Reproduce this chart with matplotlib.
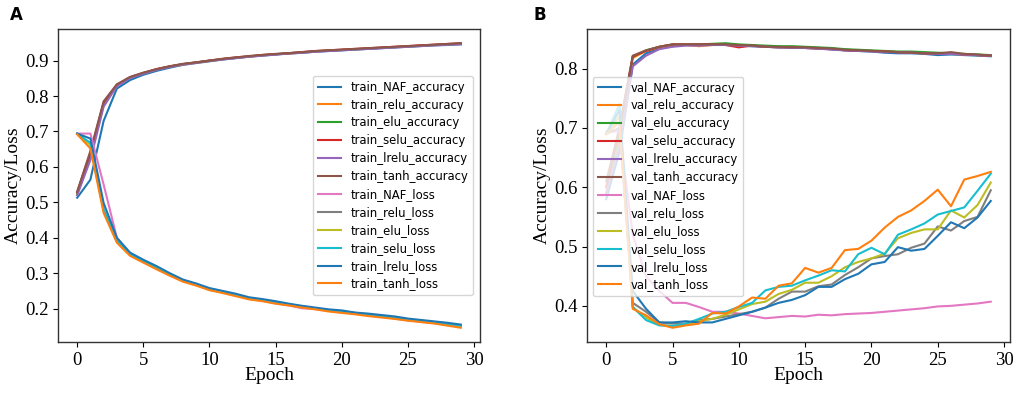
import matplotlib
matplotlib.use("Agg")
import matplotlib.pyplot as plt

epochs = list(range(30))

# ---- panel A: training curves ----
train_NAF_accuracy = [0.513, 0.564, 0.73, 0.821, 0.845, 0.860, 0.871, 0.880, 0.888, 0.893, 0.898, 0.903, 0.907, 0.911, 0.914, 0.917, 0.920, 0.922, 0.925, 0.927, 0.929, 0.931, 0.933, 0.935, 0.937, 0.939, 0.941, 0.943, 0.944, 0.946]
train_relu_accuracy = [0.522, 0.628, 0.775, 0.830, 0.852, 0.864, 0.875, 0.883, 0.889, 0.894, 0.899, 0.904, 0.908, 0.911, 0.915, 0.918, 0.920, 0.923, 0.926, 0.928, 0.930, 0.932, 0.934, 0.936, 0.938, 0.940, 0.942, 0.944, 0.946, 0.947]
train_elu_accuracy = [0.526, 0.635, 0.780, 0.831, 0.852, 0.865, 0.875, 0.883, 0.890, 0.895, 0.900, 0.904, 0.908, 0.912, 0.915, 0.918, 0.921, 0.923, 0.926, 0.928, 0.930, 0.932, 0.934, 0.936, 0.938, 0.940, 0.942, 0.944, 0.946, 0.948]
train_selu_accuracy = [0.529, 0.640, 0.782, 0.832, 0.853, 0.865, 0.876, 0.884, 0.890, 0.895, 0.900, 0.905, 0.909, 0.912, 0.916, 0.918, 0.921, 0.924, 0.927, 0.929, 0.931, 0.933, 0.935, 0.937, 0.939, 0.941, 0.943, 0.945, 0.947, 0.949]
train_lrelu_accuracy = [0.520, 0.620, 0.770, 0.828, 0.851, 0.863, 0.874, 0.882, 0.889, 0.894, 0.899, 0.903, 0.907, 0.911, 0.914, 0.917, 0.920, 0.922, 0.925, 0.927, 0.929, 0.931, 0.933, 0.935, 0.937, 0.939, 0.941, 0.943, 0.945, 0.946]
train_tanh_accuracy = [0.530, 0.645, 0.785, 0.833, 0.854, 0.866, 0.876, 0.884, 0.891, 0.895, 0.900, 0.905, 0.909, 0.913, 0.916, 0.919, 0.921, 0.924, 0.927, 0.929, 0.931, 0.933, 0.935, 0.937, 0.939, 0.941, 0.943, 0.945, 0.947, 0.949]

train_NAF_loss = [0.694, 0.694, 0.55, 0.400, 0.355, 0.334, 0.314, 0.294, 0.278, 0.267, 0.254, 0.246, 0.237, 0.228, 0.222, 0.215, 0.209, 0.201, 0.199, 0.194, 0.189, 0.186, 0.181, 0.177, 0.172, 0.167, 0.163, 0.159, 0.154, 0.149]
train_relu_loss = [0.694, 0.665, 0.478, 0.392, 0.352, 0.333, 0.315, 0.296, 0.279, 0.268, 0.255, 0.247, 0.238, 0.229, 0.224, 0.217, 0.212, 0.206, 0.201, 0.196, 0.192, 0.188, 0.183, 0.179, 0.175, 0.170, 0.166, 0.162, 0.158, 0.153]
train_elu_loss = [0.693, 0.662, 0.476, 0.390, 0.351, 0.332, 0.314, 0.295, 0.278, 0.267, 0.254, 0.246, 0.237, 0.228, 0.223, 0.216, 0.211, 0.205, 0.200, 0.194, 0.190, 0.186, 0.181, 0.177, 0.173, 0.168, 0.164, 0.160, 0.155, 0.150]
train_selu_loss = [0.693, 0.668, 0.480, 0.392, 0.353, 0.333, 0.313, 0.295, 0.279, 0.268, 0.253, 0.247, 0.238, 0.229, 0.224, 0.217, 0.212, 0.206, 0.201, 0.196, 0.191, 0.187, 0.182, 0.178, 0.174, 0.169, 0.165, 0.161, 0.157, 0.152]
train_lrelu_loss = [0.694, 0.680, 0.498, 0.400, 0.358, 0.338, 0.320, 0.300, 0.282, 0.271, 0.258, 0.250, 0.242, 0.232, 0.227, 0.221, 0.214, 0.208, 0.203, 0.198, 0.195, 0.189, 0.186, 0.182, 0.178, 0.172, 0.168, 0.164, 0.160, 0.155]
train_tanh_loss = [0.692, 0.652, 0.470, 0.386, 0.349, 0.330, 0.311, 0.293, 0.276, 0.265, 0.252, 0.244, 0.235, 0.226, 0.221, 0.214, 0.209, 0.203, 0.198, 0.192, 0.188, 0.184, 0.179, 0.175, 0.171, 0.166, 0.162, 0.158, 0.152, 0.146]

# ---- panel B: validation curves ----
val_NAF_accuracy = [0.58, 0.66, 0.807, 0.826, 0.834, 0.838, 0.840, 0.840, 0.841, 0.841, 0.839, 0.838, 0.837, 0.836, 0.836, 0.835, 0.834, 0.833, 0.831, 0.830, 0.829, 0.827, 0.826, 0.826, 0.825, 0.823, 0.824, 0.823, 0.822, 0.821]
val_relu_accuracy = [0.59, 0.68, 0.818, 0.830, 0.836, 0.839, 0.840, 0.838, 0.840, 0.841, 0.840, 0.839, 0.837, 0.837, 0.836, 0.836, 0.835, 0.834, 0.832, 0.831, 0.830, 0.829, 0.828, 0.827, 0.826, 0.826, 0.825, 0.824, 0.823, 0.822]
val_elu_accuracy = [0.60, 0.69, 0.820, 0.831, 0.837, 0.841, 0.841, 0.841, 0.842, 0.843, 0.841, 0.840, 0.839, 0.838, 0.838, 0.837, 0.836, 0.835, 0.833, 0.832, 0.831, 0.830, 0.829, 0.829, 0.828, 0.827, 0.826, 0.825, 0.824, 0.823]
val_selu_accuracy = [0.60, 0.70, 0.821, 0.830, 0.837, 0.841, 0.841, 0.841, 0.841, 0.840, 0.836, 0.839, 0.837, 0.836, 0.836, 0.835, 0.834, 0.833, 0.831, 0.830, 0.830, 0.829, 0.828, 0.827, 0.826, 0.825, 0.826, 0.824, 0.823, 0.822]
val_lrelu_accuracy = [0.59, 0.67, 0.804, 0.822, 0.833, 0.837, 0.839, 0.839, 0.840, 0.840, 0.839, 0.838, 0.837, 0.836, 0.835, 0.835, 0.834, 0.832, 0.831, 0.830, 0.829, 0.828, 0.828, 0.827, 0.826, 0.825, 0.825, 0.824, 0.823, 0.822]
val_tanh_accuracy = [0.61, 0.70, 0.822, 0.831, 0.837, 0.841, 0.841, 0.841, 0.841, 0.841, 0.840, 0.839, 0.837, 0.837, 0.836, 0.836, 0.835, 0.834, 0.832, 0.831, 0.830, 0.829, 0.828, 0.827, 0.826, 0.826, 0.828, 0.825, 0.824, 0.822]

val_NAF_loss = [0.694, 0.694, 0.52, 0.450, 0.425, 0.405, 0.405, 0.398, 0.390, 0.390, 0.387, 0.383, 0.379, 0.381, 0.383, 0.382, 0.385, 0.384, 0.386, 0.387, 0.388, 0.390, 0.392, 0.394, 0.396, 0.399, 0.400, 0.402, 0.404, 0.407]
val_relu_loss = [0.690, 0.700, 0.405, 0.390, 0.372, 0.370, 0.370, 0.376, 0.378, 0.382, 0.386, 0.390, 0.397, 0.412, 0.424, 0.424, 0.433, 0.436, 0.452, 0.465, 0.480, 0.484, 0.487, 0.498, 0.505, 0.534, 0.527, 0.543, 0.550, 0.595]
val_elu_loss = [0.690, 0.720, 0.398, 0.380, 0.368, 0.366, 0.368, 0.374, 0.378, 0.385, 0.394, 0.403, 0.407, 0.420, 0.427, 0.439, 0.439, 0.450, 0.465, 0.474, 0.480, 0.488, 0.514, 0.523, 0.529, 0.529, 0.561, 0.549, 0.570, 0.608]
val_selu_loss = [0.690, 0.740, 0.398, 0.376, 0.367, 0.366, 0.370, 0.378, 0.387, 0.390, 0.398, 0.405, 0.426, 0.432, 0.434, 0.443, 0.451, 0.460, 0.458, 0.487, 0.498, 0.487, 0.520, 0.529, 0.539, 0.554, 0.560, 0.566, 0.594, 0.623]
val_lrelu_loss = [0.690, 0.730, 0.425, 0.395, 0.372, 0.372, 0.374, 0.372, 0.372, 0.378, 0.384, 0.390, 0.397, 0.405, 0.410, 0.418, 0.432, 0.432, 0.445, 0.454, 0.470, 0.474, 0.499, 0.493, 0.496, 0.518, 0.541, 0.531, 0.549, 0.577]
val_tanh_loss = [0.690, 0.710, 0.395, 0.384, 0.369, 0.363, 0.367, 0.370, 0.388, 0.387, 0.399, 0.414, 0.412, 0.434, 0.438, 0.464, 0.456, 0.464, 0.494, 0.496, 0.510, 0.532, 0.550, 0.561, 0.577, 0.596, 0.568, 0.613, 0.619, 0.626]

train_series = [
    ("train_NAF_accuracy", train_NAF_accuracy),
    ("train_relu_accuracy", train_relu_accuracy),
    ("train_elu_accuracy", train_elu_accuracy),
    ("train_selu_accuracy", train_selu_accuracy),
    ("train_lrelu_accuracy", train_lrelu_accuracy),
    ("train_tanh_accuracy", train_tanh_accuracy),
    ("train_NAF_loss", train_NAF_loss),
    ("train_relu_loss", train_relu_loss),
    ("train_elu_loss", train_elu_loss),
    ("train_selu_loss", train_selu_loss),
    ("train_lrelu_loss", train_lrelu_loss),
    ("train_tanh_loss", train_tanh_loss),
]
val_series = [
    ("val_NAF_accuracy", val_NAF_accuracy),
    ("val_relu_accuracy", val_relu_accuracy),
    ("val_elu_accuracy", val_elu_accuracy),
    ("val_selu_accuracy", val_selu_accuracy),
    ("val_lrelu_accuracy", val_lrelu_accuracy),
    ("val_tanh_accuracy", val_tanh_accuracy),
    ("val_NAF_loss", val_NAF_loss),
    ("val_relu_loss", val_relu_loss),
    ("val_elu_loss", val_elu_loss),
    ("val_selu_loss", val_selu_loss),
    ("val_lrelu_loss", val_lrelu_loss),
    ("val_tanh_loss", val_tanh_loss),
]

yticks_A = [0.2, 0.3, 0.4, 0.5, 0.6, 0.7, 0.8, 0.9]
yticks_B = [0.4, 0.5, 0.6, 0.7, 0.8]
xticks = [0, 5, 10, 15, 20, 25, 30]

plt.rcParams["font.family"] = "serif"
plt.rcParams["font.serif"] = ["Liberation Serif", "DejaVu Serif"]

fig = plt.figure(figsize=(10.21, 3.94), dpi=100)
axA = fig.add_axes([58 / 1021, 1 - 342 / 394, 422 / 1021, 313 / 394])
axB = fig.add_axes([587 / 1021, 1 - 342 / 394, 423 / 1021, 313 / 394])


def draw(ax, series, yticks, legend_loc, anchor):
    for name, vals in series:
        ax.plot(epochs, vals, linewidth=1.5, label=name)
    ax.set_xlabel("Epoch", fontsize=14, labelpad=-1)
    ax.set_ylabel("Accuracy/Loss", fontsize=14, labelpad=2)
    ax.set_xticks(xticks)
    ax.set_yticks(yticks)
    ax.tick_params(labelsize=13.5)
    for sp in ax.spines.values():
        sp.set_linewidth(1.0)
        sp.set_color("#333333")
    ax.legend(loc=legend_loc, bbox_to_anchor=anchor, borderaxespad=0,
              prop={"family": "DejaVu Sans", "size": 8.4}, labelspacing=0.42)


draw(axA, train_series, yticks_A, "upper right", (0.983, 0.85))
draw(axB, val_series, yticks_B, "upper left", (0.014, 0.847))

fig.text(10 / 1021, 1 - 15 / 394, "A", fontsize=12, fontweight="bold",
         family="DejaVu Sans", va="center", ha="left")
fig.text(533 / 1021, 1 - 15 / 394, "B", fontsize=12, fontweight="bold",
         family="DejaVu Sans", va="center", ha="left")

fig.savefig("out.png", dpi=100)
